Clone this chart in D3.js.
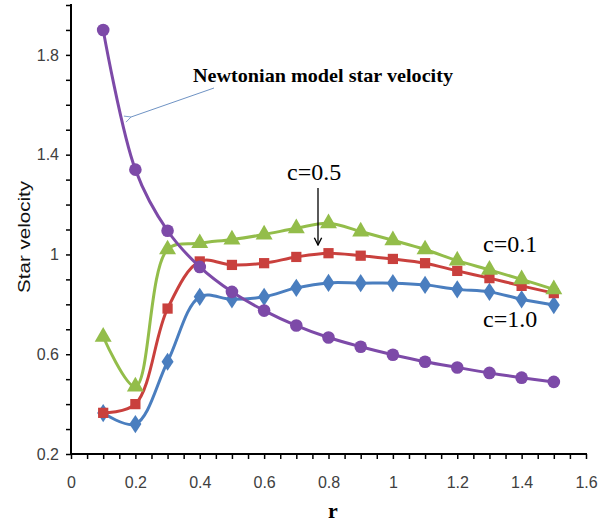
<!DOCTYPE html>
<html>
<head>
<meta charset="utf-8">
<script src="https://cdn.jsdelivr.net/npm/d3@7"></script>
<style>
  body { margin: 0; background: #fff; }
  svg { display: block; }
</style>
</head>
<body>
<svg id="chart" width="604" height="524"></svg>
<script>
// radius values shared by all series
const rValues = [0.1, 0.2, 0.3, 0.4, 0.5, 0.6, 0.7, 0.8, 0.9, 1.0, 1.1, 1.2, 1.3, 1.4, 1.5];
const newtonian = [1.90, 1.34, 1.095, 0.95, 0.85, 0.775, 0.715, 0.667, 0.63, 0.598, 0.57, 0.547, 0.525, 0.506, 0.489];
const c10 = [0.364, 0.32, 0.57, 0.83, 0.82, 0.83, 0.866, 0.886, 0.885, 0.885, 0.878, 0.86, 0.85, 0.82, 0.797];
const c05 = [0.365, 0.40, 0.783, 0.972, 0.958, 0.965, 0.99, 1.005, 0.995, 0.982, 0.965, 0.934, 0.905, 0.874, 0.845];
const c01 = [0.67, 0.47, 1.02, 1.045, 1.06, 1.08, 1.105, 1.125, 1.092, 1.057, 1.02, 0.975, 0.938, 0.9, 0.86];
const xTicks = [0, 0.2, 0.4, 0.6, 0.8, 1, 1.2, 1.4, 1.6];
const yTicks = [0.2, 0.6, 1, 1.4, 1.8];

const svg = d3.select("#chart");
const x = d3.scaleLinear().domain([0, 1.6]).range([71, 586]);
const y = d3.scaleLinear().domain([0.2, 2.0]).range([454, 5]);

// axes
const xAxis = svg.append("g").attr("transform", "translate(0,454)");
xAxis.append("g")
  .call(d3.axisBottom(x).tickValues(d3.range(0, 1.6001, 0.05)).tickSize(5).tickFormat(""))
  .call(g => g.select(".domain").remove())
  .selectAll("line").attr("stroke", "#000").attr("stroke-width", 1.5);
xAxis.append("g")
  .call(d3.axisBottom(x).tickValues(xTicks).tickSize(0).tickPadding(23).tickFormat(d3.format("")))
  .call(g => g.select(".domain").remove())
  .selectAll("text")
  .attr("fill", "#404040")
  .style("font", "16px 'Liberation Sans Narrow', 'Liberation Sans', sans-serif");
xAxis.append("line").attr("x1", 71).attr("x2", 587).attr("stroke", "#000").attr("stroke-width", 2);

const yAxis = svg.append("g").attr("transform", "translate(71,0)");
yAxis.append("g")
  .call(d3.axisLeft(y).tickValues(d3.range(0.2, 2.0001, 0.1)).tickSize(5).tickFormat(""))
  .call(g => g.select(".domain").remove())
  .selectAll("line").attr("stroke", "#000").attr("stroke-width", 1.5);
yAxis.append("g")
  .call(d3.axisLeft(y).tickValues(yTicks).tickSize(0).tickPadding(12).tickFormat(d3.format("")))
  .call(g => g.select(".domain").remove())
  .selectAll("text")
  .attr("fill", "#404040")
  .style("font", "16px 'Liberation Sans Narrow', 'Liberation Sans', sans-serif");
yAxis.append("line").attr("y1", 4).attr("y2", 455).attr("stroke", "#000").attr("stroke-width", 2);

// axis titles
svg.append("text")
  .attr("x", 333).attr("y", 518)
  .attr("text-anchor", "middle")
  .style("font", "bold 22px 'Liberation Serif', serif")
  .text("r");
svg.append("text")
  .attr("transform", "translate(30,237) rotate(-90)")
  .attr("text-anchor", "middle")
  .attr("textLength", 112)
  .attr("lengthAdjust", "spacingAndGlyphs")
  .style("font", "17px 'Liberation Sans', sans-serif")
  .attr("fill", "#111")
  .text("Star velocity");

// series
const series = [
  { values: c10, color: "#4a7ebf", shape: d3.symbolDiamond, size: 95 },
  { values: c05, color: "#c9403d", shape: d3.symbolSquare, size: 105 },
  { values: c01, color: "#93bd4a", shape: d3.symbolTriangle, size: 125 },
  { values: newtonian, color: "#7d4aa8", shape: d3.symbolCircle, size: 125 }
];

const line = d3.line()
  .x((d, i) => x(rValues[i]))
  .y(d => y(d))
  .curve(d3.curveCatmullRom.alpha(0.5));

series.forEach(s => {
  const g = svg.append("g");
  g.append("path")
    .attr("d", line(s.values))
    .attr("fill", "none")
    .attr("stroke", s.color)
    .attr("stroke-width", 3);
  g.selectAll("path.m")
    .data(s.values)
    .join("path")
    .attr("class", "m")
    .attr("transform", (d, i) => `translate(${x(rValues[i])},${y(d)})` + (s.shape === d3.symbolDiamond ? " scale(1.15,1)" : ""))
    .attr("d", d3.symbol().type(s.shape).size(s.size))
    .attr("fill", s.color);
});

// annotations
const defs = svg.append("defs");
defs.append("marker")
  .attr("id", "openArrow").attr("viewBox", "0 0 10 10")
  .attr("refX", 1).attr("refY", 5)
  .attr("markerWidth", 8).attr("markerHeight", 8)
  .attr("orient", "auto-start-reverse")
  .append("path").attr("d", "M9,1 L1,5 L9,9")
  .attr("fill", "none").attr("stroke", "#6f93c4").attr("stroke-width", 1);
defs.append("marker")
  .attr("id", "blackArrow").attr("viewBox", "0 0 10 10")
  .attr("refX", 9).attr("refY", 5)
  .attr("markerWidth", 7).attr("markerHeight", 7)
  .attr("orient", "auto")
  .append("path").attr("d", "M1,1 L9,5 L1,9")
  .attr("fill", "none").attr("stroke", "#000").attr("stroke-width", 1.5);

svg.append("line")
  .attr("x1", 214).attr("y1", 88).attr("x2", 131).attr("y2", 117)
  .attr("stroke", "#6f93c4").attr("stroke-width", 1)
  .attr("marker-end", "url(#openArrow)");
svg.append("text")
  .attr("x", 193).attr("y", 82)
  .attr("textLength", 260)
  .attr("lengthAdjust", "spacingAndGlyphs")
  .style("font", "bold 19px 'Liberation Serif', serif")
  .text("Newtonian model star velocity");

svg.append("line")
  .attr("x1", 318).attr("y1", 188).attr("x2", 318).attr("y2", 245)
  .attr("stroke", "#000").attr("stroke-width", 1.3)
  .attr("marker-end", "url(#blackArrow)");

const labelFont = "24px 'Liberation Serif', serif";
svg.append("text").attr("x", 287).attr("y", 180).style("font", labelFont).text("c=0.5");
svg.append("text").attr("x", 483).attr("y", 252).style("font", labelFont).text("c=0.1");
svg.append("text").attr("x", 483).attr("y", 327).style("font", labelFont).text("c=1.0");
</script>
</body>
</html>
